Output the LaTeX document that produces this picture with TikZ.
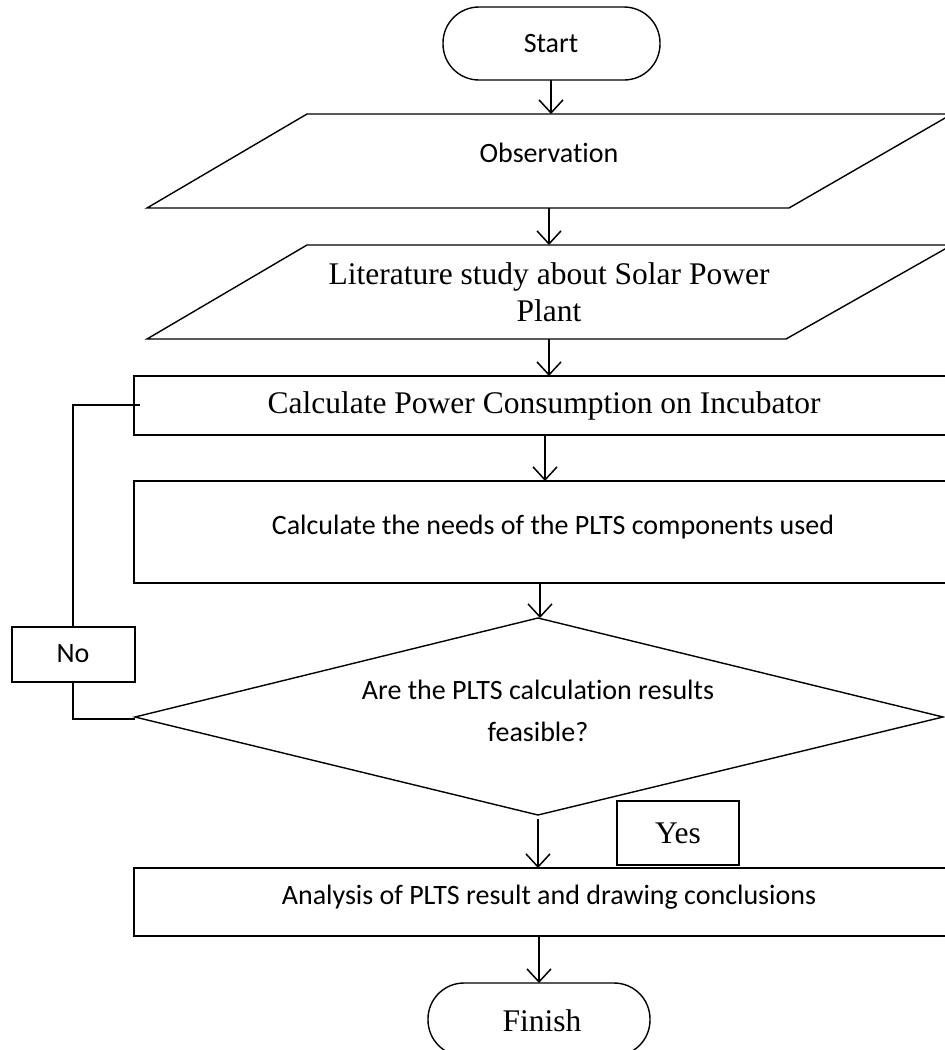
\documentclass[tikz,border=0pt]{standalone}
\usepackage{fontspec}
\setmainfont{Liberation Serif}
\newfontfamily\calib[Ligatures={NoCommon}]{Carlito}
\usetikzlibrary{arrows.meta}
\begin{document}
\begin{tikzpicture}[x=1pt,y=-1pt,
  shapeline/.style={draw=black,line width=1.4pt},
  flow/.style={draw=black,line width=1.5pt,-{Straight Barb[length=13pt,width=24pt]}},
  loopline/.style={draw=black,line width=1.4pt},
  sanslabel/.style={font=\calib\fontsize{28}{42}\selectfont,align=center,inner sep=0pt},
  seriflabel/.style={font=\fontsize{31.5}{37}\selectfont,align=center,inner sep=0pt}]
\clip (0,0) rectangle (945,1050);
\fill[white] (0,0) rectangle (945,1050);

% shapes
\draw[shapeline, rounded corners=36pt] (443,7) rectangle (660,80);
\draw[shapeline] (307,114) -- (952,114) -- (789,208) -- (147,208) -- cycle;
\draw[shapeline] (307,245) -- (952,245) -- (786,339) -- (147,339) -- cycle;
\draw[shapeline] (134,376) rectangle (960,435);
\draw[shapeline] (134,481) rectangle (960,583);
\draw[shapeline] (538,618) -- (943,717) -- (538,815) -- (135,717) -- cycle;
\draw[shapeline] (12,627) rectangle (135,682);
\draw[shapeline] (617,801) rectangle (739,865);
\draw[shapeline] (134,868) rectangle (960,936);
\draw[shapeline, rounded corners=36pt] (428,983) rectangle (650,1056);

% labels
\node[sanslabel] (tstart) at (551,44) {Start};
\node[sanslabel] (tobs) at (549,153) {Observation};
\node[seriflabel] (tlit) at (549,292) {Literature study about Solar Power\\Plant};
\node[seriflabel] (tcalc) at (544,406) {Calculate Power Consumption on Incubator};
\node[sanslabel] (tneeds) at (553,527) {Calculate the needs of the PLTS components used};
\node[sanslabel] (tdec) at (538,711) {Are the PLTS calculation results\\feasible?};
\node[sanslabel] (tno) at (73,654) {No};
\node[seriflabel] (tyes) at (678,833) {Yes};
\node[sanslabel] (tana) at (549,897) {Analysis of PLTS result and drawing conclusions};
\node[seriflabel] (tfin) at (542,1021) {Finish};

% connector end points
\coordinate (startbot) at (551,80);
\coordinate (obstop) at (551,114);
\coordinate (obsbot) at (549,208);
\coordinate (littop) at (549,245);
\coordinate (litbot) at (549,339);
\coordinate (calctop) at (549,376);
\coordinate (calcbot) at (545,435);
\coordinate (needstop) at (545,481);
\coordinate (needsbot) at (540,583);
\coordinate (dectop) at (540,618);
\coordinate (decbot) at (538,819);
\coordinate (anatop) at (538,868);
\coordinate (anabot) at (539,936);
\coordinate (fintop) at (539,983);
\coordinate (decleft) at (135,719);
\coordinate (nobot) at (73,682);
\coordinate (notop) at (73,627);
\coordinate (calcleft) at (140,405);

% connectors
\draw[flow] (startbot) -- (obstop);
\draw[flow] (obsbot) -- (littop);
\draw[flow] (litbot) -- (calctop);
\draw[flow] (calcbot) -- (needstop);
\draw[flow] (needsbot) -- (dectop);
\draw[flow] (decbot) -- (anatop);
\draw[flow] (anabot) -- (fintop);
\draw[loopline] (decleft) -| (nobot);
\draw[loopline] (notop) |- (calcleft);
\end{tikzpicture}
\end{document}
